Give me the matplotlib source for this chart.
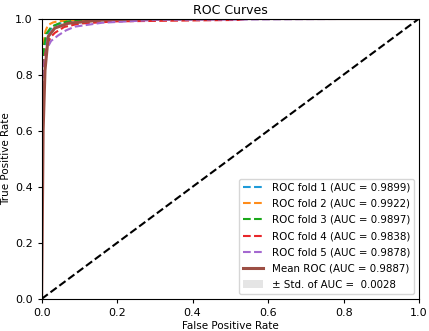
import matplotlib
matplotlib.use("Agg")
import matplotlib.pyplot as plt
import numpy as np

# ROC curves per fold (FPR, TPR)
fold1_fpr = [0.0, 0.0, 0.003, 0.006, 0.012, 0.02, 0.03, 0.05, 0.08, 0.15, 0.3, 1.0]
fold1_tpr = [0.0, 0.60, 0.80, 0.88, 0.93, 0.955, 0.972, 0.983, 0.990, 0.995, 0.999, 1.0]
fold2_fpr = [0.0, 0.0, 0.003, 0.006, 0.01, 0.017, 0.03, 0.043, 0.08, 0.2, 1.0]
fold2_tpr = [0.0, 0.65, 0.85, 0.92, 0.955, 0.977, 0.986, 0.990, 0.994, 0.998, 1.0]
fold3_fpr = [0.0, 0.0, 0.003, 0.006, 0.012, 0.026, 0.045, 0.07, 0.12, 0.3, 1.0]
fold3_tpr = [0.0, 0.62, 0.82, 0.90, 0.945, 0.971, 0.982, 0.990, 0.993, 0.998, 1.0]
fold4_fpr = [0.0, 0.0, 0.004, 0.008, 0.015, 0.025, 0.035, 0.06, 0.1, 0.2, 0.52, 0.55, 1.0]
fold4_tpr = [0.0, 0.55, 0.78, 0.86, 0.91, 0.935, 0.949, 0.970, 0.982, 0.990, 0.995, 1.0, 1.0]
fold5_fpr = [0.0, 0.0, 0.004, 0.008, 0.015, 0.025, 0.044, 0.065, 0.088, 0.16, 0.3, 1.0]
fold5_tpr = [0.0, 0.55, 0.77, 0.85, 0.895, 0.92, 0.940, 0.958, 0.971, 0.985, 0.995, 1.0]
mean_fpr = [0.0, 0.004, 0.009, 0.0175, 0.035, 0.07, 0.16, 0.24, 0.5, 1.0]
mean_tpr = [0.0, 0.60, 0.816, 0.936, 0.966, 0.983, 0.995, 0.999, 1.0, 1.0]

fold_aucs = [0.9899, 0.9922, 0.9897, 0.9838, 0.9878]
mean_auc = 0.9887
std_auc = 0.0028
fold_colors = ["#1f9bd8", "#ff8c1a", "#1aa81a", "#e8262a", "#a468d0"]

folds = [(fold1_fpr, fold1_tpr), (fold2_fpr, fold2_tpr), (fold3_fpr, fold3_tpr),
         (fold4_fpr, fold4_tpr), (fold5_fpr, fold5_tpr)]

fig = plt.figure(figsize=(4.29, 3.31), dpi=100)
ax = fig.add_axes([0.097, 0.097, 0.880, 0.847])

for i, ((f, t), auc, c) in enumerate(zip(folds, fold_aucs, fold_colors)):
    ax.plot(f, t, linestyle="--", lw=1.5, color=c,
            label=f"ROC fold {i+1} (AUC = {auc:.4f})")

mt = np.array(mean_tpr)
ax.plot(mean_fpr, mean_tpr, color="#9c4f44", lw=2.2,
        label=f"Mean ROC (AUC = {mean_auc:.4f})")
ax.fill_between(mean_fpr, np.clip(mt - std_auc, 0, 1), np.clip(mt + std_auc, 0, 1),
                color="grey", alpha=0.2, lw=0,
                label=f"± Std. of AUC =  {std_auc:.4f}")
ax.plot([0, 1], [0, 1], linestyle="--", color="black", lw=1.5)

ax.set_xlim(0, 1)
ax.set_ylim(0, 1)
ticks = [0.0, 0.2, 0.4, 0.6, 0.8, 1.0]
ax.set_xticks(ticks)
ax.set_yticks(ticks)
ax.tick_params(labelsize=8, length=3)
ax.set_xlabel("False Positive Rate", fontsize=7.5, labelpad=2)
ax.set_ylabel("True Positive Rate", fontsize=7.5, labelpad=3)
ax.set_title("ROC Curves", fontsize=9, pad=3)
ax.legend(loc="lower right", fontsize=7.4, handlelength=2.0, labelspacing=0.6,
          borderaxespad=0.5)

fig.savefig("out.png", dpi=100)
